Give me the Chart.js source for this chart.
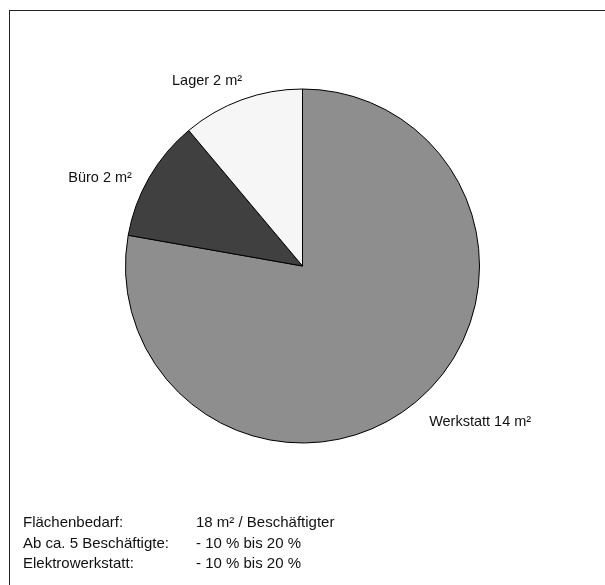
<!DOCTYPE html>
<html>
<head>
<meta charset="utf-8">
<script src="https://cdn.jsdelivr.net/npm/chart.js@4.4.0/dist/chart.umd.min.js"></script>
<style>
  html, body { margin: 0; padding: 0; background: #fff; }
  #wrap { position: relative; width: 605px; height: 585px; overflow: hidden; }
  #frame {
    position: absolute; left: 9px; top: 10px; width: 700px; height: 700px;
    border-left: 1px solid #222; border-top: 1px solid #222;
  }
  #pie { position: absolute; left: 0; top: 0; }
  .note {
    position: absolute; left: 23px; font: 15px "Liberation Sans", Arial, sans-serif;
    color: #111; white-space: nowrap; line-height: 20px;
  }
  .note span { position: absolute; left: 173px; }
</style>
</head>
<body>
<div id="wrap">
  <div id="frame"></div>
  <canvas id="pie" width="605" height="585"></canvas>
  <div id="notes"></div>
</div>
<script>
'use strict';

// Slice data (m² per Beschäftigter)
const categories = ['Werkstatt', 'Büro', 'Lager'];
const areas = [14, 2, 2];
const sliceColors = ['#8e8e8e', '#404040', '#f6f6f6'];

// Footer notes below the pie
const noteLabels = ['Flächenbedarf:', 'Ab ca. 5 Beschäftigte:', 'Elektrowerkstatt:'];
const noteValues = ['18 m² / Beschäftigter', '- 10 % bis 20 %', '- 10 % bis 20 %'];

// small nudges for label placement (px), Excel doesn't follow a strict rule
const labelNudge = [[0, 5], [0, 10], [7, 0]];

const labelFont = '14.5px "Liberation Sans", Arial, sans-serif';

// Draws "<name> <value> m²" outside each slice
const outsideLabels = {
  id: 'outsideLabels',
  afterDatasetsDraw(chart) {
    const ctx = chart.ctx;
    const meta = chart.getDatasetMeta(0);
    ctx.save();
    ctx.font = labelFont;
    ctx.fillStyle = '#111';
    ctx.textBaseline = 'middle';
    meta.data.forEach((arc, i) => {
      const mid = (arc.startAngle + arc.endAngle) / 2;
      const r = arc.outerRadius + 20;
      const x = arc.x + Math.cos(mid) * r + labelNudge[i][0];
      const y = arc.y + Math.sin(mid) * r + labelNudge[i][1];
      ctx.textAlign = Math.cos(mid) >= 0 ? 'left' : 'right';
      ctx.fillText(categories[i] + ' ' + areas[i] + ' m²', x, y);
    });
    ctx.restore();
  },
};

new Chart(document.getElementById('pie'), {
  type: 'pie',
  data: {
    labels: categories,
    datasets: [{
      data: areas,
      backgroundColor: sliceColors,
      borderColor: '#000',
      borderWidth: 1,
    }],
  },
  options: {
    responsive: false,
    animation: false,
    layout: { padding: { left: 125, right: 125, top: 88, bottom: 141 } },
    plugins: {
      legend: { display: false },
      tooltip: { enabled: false },
    },
  },
  plugins: [outsideLabels],
});

// footer text
const notesEl = document.getElementById('notes');
noteLabels.forEach((txt, i) => {
  const div = document.createElement('div');
  div.className = 'note';
  div.style.top = (512 + i * 20.5) + 'px';
  div.textContent = txt;
  const val = document.createElement('span');
  val.textContent = noteValues[i];
  div.appendChild(val);
  notesEl.appendChild(div);
});
</script>
</body>
</html>
